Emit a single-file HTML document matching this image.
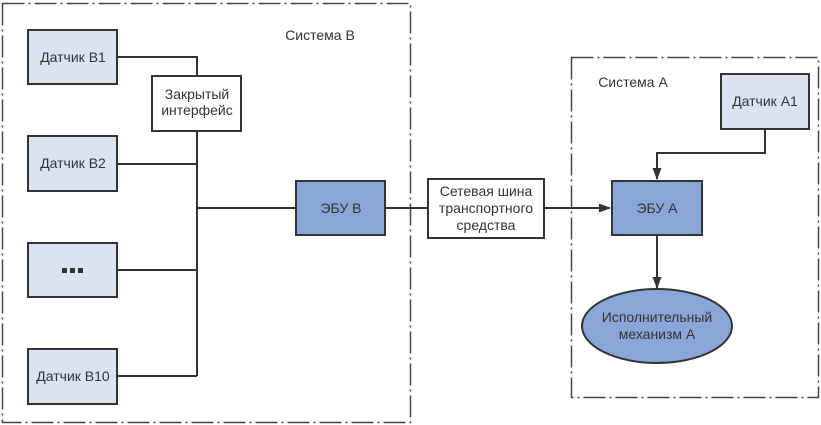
<!DOCTYPE html>
<html><head><meta charset="utf-8"><style>
html,body{margin:0;padding:0;background:#fff;}
svg{display:block;}
text{font-family:"Liberation Sans",sans-serif;font-size:14px;fill:#333;}
</style></head><body>
<svg width="821" height="425" viewBox="0 0 821 425" xmlns="http://www.w3.org/2000/svg">
<defs><marker id="ar" markerWidth="12" markerHeight="12" refX="11" refY="6" orient="auto" markerUnits="userSpaceOnUse"><path d="M0,1.5 L12,6 L0,10.5 Z" fill="#333"/></marker></defs>
<g fill="none" stroke="#444" stroke-width="1.5" stroke-dasharray="22,4,2,4">
<rect x="2.5" y="3.5" width="408" height="419"/>
<rect x="571.5" y="57.5" width="247" height="340"/>
</g>
<g stroke="#333" stroke-width="2" fill="none">
<path d="M117,57 H197 V376 M117,164 H197 M117,270 H197 M117,376 H197 M197,208 H296 M385,208 H428"/>
</g>
<g stroke="#333" stroke-width="2">
<path d="M544,208 H610" marker-end="url(#ar)"/>
<path d="M765,129 V153 H657 V179" fill="none" marker-end="url(#ar)"/>
<path d="M657,235 V288" marker-end="url(#ar)"/>
</g>
<g stroke="#333" stroke-width="2">
<rect x="28" y="30" width="89" height="54" fill="#dde2f2"/>
<rect x="28" y="136" width="89" height="55" fill="#dde2f2"/>
<rect x="28" y="243" width="89" height="54" fill="#dde2f2"/>
<rect x="28" y="349" width="89" height="55" fill="#dde2f2"/>
<rect x="152" y="76" width="89" height="55" fill="#fff"/>
<rect x="296" y="181" width="89" height="54" fill="#8aa6d8"/>
<rect x="428" y="179" width="116" height="59" fill="#fff"/>
<rect x="612" y="181" width="90" height="54" fill="#8aa6d8"/>
<rect x="721" y="74" width="88" height="55" fill="#dde2f2"/>
<ellipse cx="657" cy="326" rx="75" ry="37" fill="#8aa6d8"/>
</g>
<g fill="#333">
<rect x="62" y="268" width="5" height="5"/>
<rect x="70" y="268" width="5" height="5"/>
<rect x="78" y="268" width="5" height="5"/>
</g>
<g text-anchor="middle">
<text x="73" y="62">Датчик B1</text>
<text x="73" y="168">Датчик B2</text>
<text x="73" y="381">Датчик B10</text>
<text x="197" y="99">Закрытый</text>
<text x="197" y="115">интерфейс</text>
<text x="341" y="213">ЭБУ B</text>
<text x="486" y="196">Сетевая шина</text>
<text x="486" y="213">транспортного</text>
<text x="486" y="230">средства</text>
<text x="657" y="213">ЭБУ A</text>
<text x="765" y="106">Датчик A1</text>
<text x="657" y="322">Исполнительный</text>
<text x="657" y="339">механизм A</text>
<text x="320" y="40">Система B</text>
<text x="633" y="87">Система A</text>
</g>
</svg>
</body></html>
